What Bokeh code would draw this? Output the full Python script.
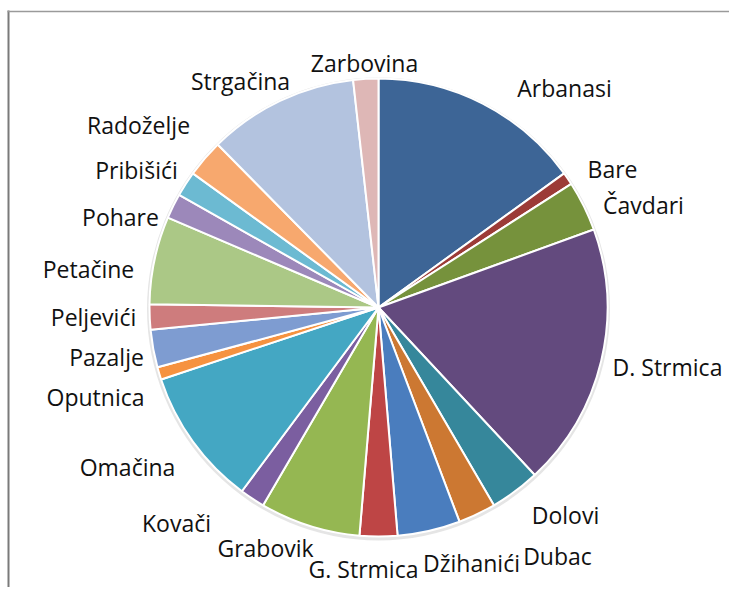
import math
from bokeh.plotting import figure
from bokeh.models import ColumnDataSource, Range1d
from bokeh.core.properties import value
from bokeh.embed import file_html
from bokeh.resources import INLINE

# ---------------- data ----------------
villages = ["Arbanasi", "Bare", "Čavdari", "D. Strmica", "Dolovi", "Dubac",
            "Džihanići", "G. Strmica", "Grabovik", "Kovači", "Omačina",
            "Oputnica", "Pazalje", "Peljevići", "Petačine", "Pohare",
            "Pribišići", "Radoželje", "Strgačina", "Zarbovina"]
counts = [17, 1, 4, 21, 4, 3, 5, 3, 8, 2, 11, 1, 3, 2, 7, 2, 2, 3, 12, 2]

# ---------------- styles ----------------
colors = ["#3D6596", "#9C3B37", "#76923C", "#634A7E", "#36879B", "#CC7832",
          "#4A7DBE", "#BE4545", "#95B752", "#7B5EA0", "#44A7C3", "#F69240",
          "#7E9CD1", "#CE7C7D", "#ABC886", "#9C88BA", "#6CBAD2", "#F7A86E",
          "#B3C3DF", "#DEB7B6"]

# ---------------- layout (screen px) ----------------
W, H = 729, 587
PAGE_H = 595
CX, CY, R = 378, 307, 229          # pie centre / radius on screen
# label centres as offsets from the pie centre (screen px, y downward)
label_offsets = [(186, -220), (234, -139), (265, -103), (289, 59), (187, 207),
                 (179, 248), (93, 255), (-15, 261), (-113, 240), (-202, 215),
                 (-251, 159), (-283, 89), (-272, 49), (-285, 9), (-290, -39),
                 (-258, -91), (-242, -138), (-240, -183), (-138, -227), (-14, -245)]


def sy(y):
    return PAGE_H - y


total = float(sum(counts))
starts, ends = [], []
acc = 0.0
for c in counts:
    starts.append(math.pi / 2 - 2 * math.pi * acc / total)
    acc += c
    ends.append(math.pi / 2 - 2 * math.pi * acc / total)

src = ColumnDataSource(dict(name=villages, value=counts, start=starts, end=ends,
                            color=colors))

p = figure(width=W, height=H, output_backend="svg", toolbar_location=None,
           x_range=Range1d(0, W), y_range=Range1d(PAGE_H - H, PAGE_H),
           min_border=0)
p.axis.visible = False
p.grid.visible = False
p.outline_line_color = None
p.background_fill_color = "white"
p.border_fill_color = "white"

# chart-area frame (left and top edges visible)
p.segment(x0=[8, 7], y0=[sy(10), sy(11)], x1=[8, W], y1=[PAGE_H - H, sy(11)],
          line_color=["#7a7a7a", "#9a9a9a"], line_width=[2, 1.6])

# soft shadow around the pie
p.circle(x=[CX], y=[sy(CY) - 1.5], radius=R + 2.5, fill_color="#cfcfcf",
         fill_alpha=0.55, line_color=None)

p.wedge(x=CX, y=sy(CY), radius=R, start_angle="start", end_angle="end",
        direction="clock", fill_color="color", line_color="white",
        line_width=2, source=src)

lx = [CX + dx for dx, dy in label_offsets]
ly = [sy(CY + dy) for dx, dy in label_offsets]
p.text(x=lx, y=ly, text=villages, text_font=value("Open Sans"),
       text_font_size="23px", text_color="#111111", text_align="center",
       text_baseline="middle")

open("out.html", "w").write(file_html(p, INLINE))
